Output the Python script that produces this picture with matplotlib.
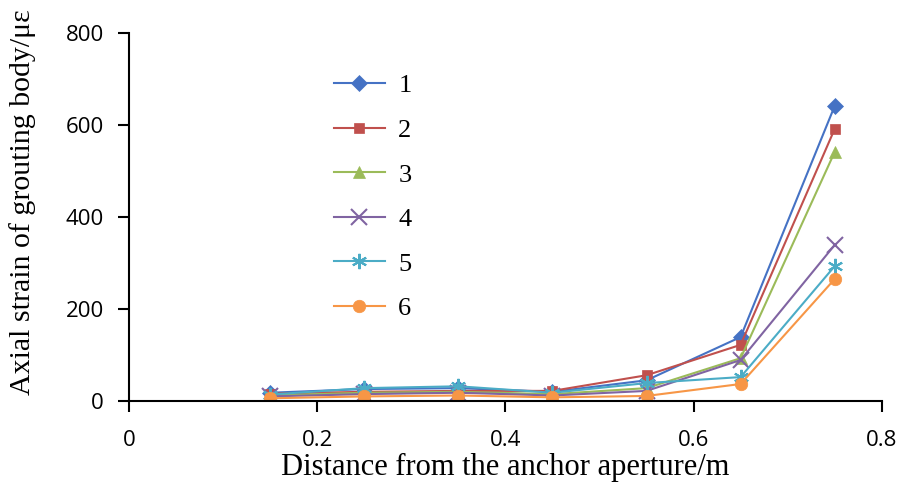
import matplotlib
matplotlib.use("Agg")
import matplotlib.pyplot as plt

distance = [0.15, 0.25, 0.35, 0.45, 0.55, 0.65, 0.75]
labels = ["1", "2", "3", "4", "5", "6"]
s1 = [18, 26, 28, 20, 45, 139, 641]
s2 = [16, 20, 22, 22, 56, 122, 591]
s3 = [12, 18, 20, 15, 28, 93, 541]
s4 = [10, 15, 18, 12, 22, 89, 339]
s5 = [14, 28, 32, 18, 39, 52, 293]
s6 = [6, 10, 12, 8, 11, 37, 265]
series = [s1, s2, s3, s4, s5, s6]
colors = ["#4572C4", "#C0504D", "#9BBB59", "#8064A2", "#4BACC6", "#F79646"]
markers = ["D", "s", "^", "x", (6, 2, 0), "o"]
msizes = [8, 7, 8, 11, 11, 9]
xticks = [0, 0.2, 0.4, 0.6, 0.8]
yticks = [0, 200, 400, 600, 800]

fig = plt.figure(figsize=(9.09, 4.82), dpi=100)
ax = fig.add_axes([0.142, 0.168, 0.828, 0.764])
for vals, lab, c, m, ms in zip(series, labels, colors, markers, msizes):
    ax.plot(distance, vals, color=c, marker=m, markersize=ms, linewidth=1.5,
            markeredgewidth=1.5 if m in ("x", (6, 2, 0)) else 0.5,
            markeredgecolor=c, label=lab)

ax.set_xlim(0, 0.8)
ax.set_ylim(0, 800)
ax.set_xticks(xticks)
ax.set_xticklabels(["0", "0.2", "0.4", "0.6", "0.8"])
ax.set_yticks(yticks)
for s in ["top", "right"]:
    ax.spines[s].set_visible(False)
for s in ["left", "bottom"]:
    ax.spines[s].set_linewidth(1.5)
ax.tick_params(axis="both", direction="out", length=8, width=1.5,
               labelsize=16, colors="black")
for t in ax.get_xticklabels() + ax.get_yticklabels():
    t.set_family("Open Sans")
ax.tick_params(axis="x", pad=13)
ax.tick_params(axis="y", pad=10)

ax.set_xlabel("Distance from the anchor aperture/m", family="Liberation Serif",
              fontsize=22)
ax.xaxis.set_label_coords(0.5, -0.140)
ax.set_ylabel("Axial strain of grouting body/με", family="Liberation Serif",
              fontsize=21.5)
ax.yaxis.set_label_coords(-0.124, 0.54)

leg = ax.legend(loc="upper left", bbox_to_anchor=(0.341, 0.896), bbox_transform=fig.transFigure,
                frameon=False, prop={"family": "Liberation Serif", "size": 19},
                handlelength=1.95, labelspacing=0.80, handletextpad=0.5)
fig.savefig("out.png", dpi=100)
